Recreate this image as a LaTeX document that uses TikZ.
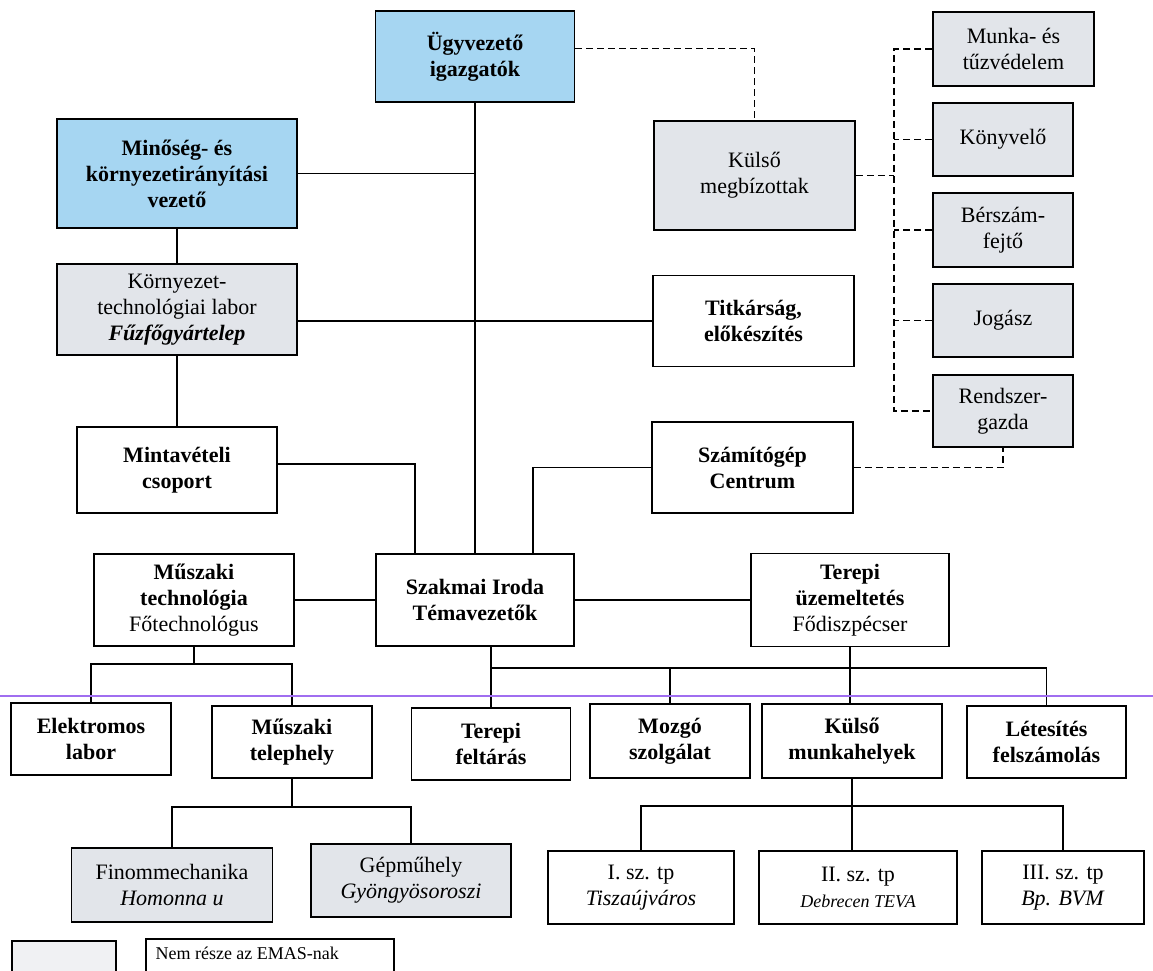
\documentclass[tikz,border=0pt]{standalone}
\usepackage{fontspec}
\setmainfont{Liberation Serif}
\definecolor{boxblue}{RGB}{166,214,242}
\definecolor{boxgray}{RGB}{226,229,234}
\definecolor{swatchgray}{RGB}{240,241,243}
\definecolor{scanline}{RGB}{160,110,240}

\begin{document}
\begin{tikzpicture}[x=1pt, y=-1pt,
    box/.style={draw, rectangle, line width=1.9pt, align=center, inner sep=2pt,
        font=\fontsize{22}{26}\selectfont},
    bf/.style={font=\fontsize{22}{26}\selectfont\bfseries},
    sz/.style 2 args={minimum width=#1pt, minimum height=#2pt},
    bluebox/.style={box, fill=boxblue},
    graybox/.style={box, fill=boxgray},
    line/.style={line width=1.8pt},
    dline/.style={line width=1.7pt, dash pattern=on 7pt off 4pt}]
    \useasboundingbox (0,0) rectangle (1153,970);

    % Nodes
    \node (ug) [bluebox, bf, sz={199}{91}] at (475,56.5) {Ügyvezető\\igazgatók};
    \node (minoseg) [bluebox, bf, sz={240}{109}] at (177,173.5) {Minőség- és\\környezetirányítási\\vezető};
    \node (kulso) [graybox, sz={201}{109}] at (754.5,175.5) {Külső\\megbízottak};
    \node (munka) [graybox, sz={161}{74}] at (1013.5,49) {Munka- és\\tűzvédelem};
    \node (konyvelo) [graybox, sz={140}{73}] at (1003,139.5) {Könyvelő};
    \node (berszam) [graybox, sz={140}{74}] at (1003,230) {Bérszám-\\fejtő};
    \node (jogasz) [graybox, sz={140}{73}] at (1003,320.5) {Jogász};
    \node (rendszer) [graybox, sz={140}{72}] at (1003,411) {Rendszer-\\gazda};
    \node (kornyezet) [graybox, sz={240}{91}] at (177,309.5) {Környezet-\\technológiai labor\\\textbf{\textit{Fűzfőgyártelep}}};
    \node (titkarsag) [box, bf, sz={201}{91}] at (753.5,321) {Titkárság,\\előkészítés};
    \node (mintaveteli) [box, bf, sz={200}{86}] at (177,470) {Mintavételi\\csoport};
    \node (szamitogep) [box, bf, sz={201}{91}] at (752.5,467.5) {Számítógép\\Centrum};
    \node (szakmai) [box, bf, sz={198}{92}] at (475,600) {Szakmai Iroda\\Témavezetők};
    \node (muszaki) [box, sz={200}{92}] at (194,600) {\textbf{Műszaki}\\\textbf{technológia}\\Főtechnológus};
    \node (terepi) [box, sz={198}{93}] at (850,600) {\textbf{Terepi}\\\textbf{üzemeltetés}\\Fődiszpécser};

    \node (elektromos) [box, bf, sz={160}{72}] at (91,739) {Elektromos\\labor};
    \node (telephely) [box, bf, sz={160}{72}] at (292,742) {Műszaki\\telephely};
    \node (feltaras) [box, bf, sz={159}{72}] at (491,744) {Terepi\\feltárás};
    \node (mozgo) [box, bf, sz={160}{74}] at (670,741) {Mozgó\\szolgálat};
    \node (munkahely) [box, bf, sz={180}{74}] at (852,741) {Külső\\munkahelyek};
    \node (letesites) [box, bf, sz={159}{72}] at (1046.5,742) {Létesítés\\felszámolás};

    \node (finom) [graybox, sz={201}{74}] at (172,885) {Finommechanika\\\textit{Homonna u}};
    \node (gep) [graybox, sz={200}{73}] at (411,880.5) {Gépműhely\\\textit{Gyöngyösoroszi}};
    \node (tp1) [box, sz={186}{73}] at (641,887.5) {I. sz. tp\\\textit{Tiszaújváros}};
    \node (tp2) [box, sz={198}{73}] at (858,887.5) {II. sz. tp\\{\fontsize{18}{22}\selectfont\itshape Debrecen TEVA}};
    \node (tp3) [box, sz={162}{73}] at (1063,887.5) {III. sz. tp\\\textit{Bp. BVM}};

    \node (swatch) [box, fill=swatchgray, sz={104}{45}, anchor=north west] at (11,940) {};
    \node (legend) [box, sz={248}{45}, anchor=north west] at (145,938) {};
    \node (legendtext) [anchor=west, font=\fontsize{18}{22}\selectfont] at (152,953) {Nem része az EMAS-nak};

    % Lines
    \coordinate (bus1) at (0,664);
    \coordinate (bus2) at (0,668);
    \coordinate (bus3) at (0,807);
    \coordinate (bus4) at (0,806);
    \coordinate (dbus) at (894,0);

    \draw[line] (ug.south) -- (szakmai.north);
    \draw[line] (minoseg.east) -- (minoseg.east -| ug.south);
    \draw[line] (minoseg.south) -- (kornyezet.north);
    \draw[line] (kornyezet.south) -- (mintaveteli.north);
    \draw[line] (titkarsag.west) -- (titkarsag.west -| kornyezet.east);
    \draw[line] ([yshift=6pt]mintaveteli.east) -| ([xshift=-60pt]szakmai.north);
    \draw[line] (szamitogep.west) -| ([xshift=58pt]szakmai.north);
    \draw[line] (muszaki.east) -- (szakmai.west);
    \draw[line] (szakmai.east) -- (terepi.west);

    \draw[line] (muszaki.south) -- (muszaki.south |- bus1);
    \draw[line] (elektromos.north) |- (telephely.north |- bus1) -- (telephely.north);
    \draw[line] (feltaras.north |- szakmai.south) -- (feltaras.north);
    \draw[line] (feltaras.north |- bus2) -| (letesites.north);
    \draw[line] (mozgo.north |- bus2) -- (mozgo.north);
    \draw[line] (terepi.south) -- (terepi.south |- munkahely.north);

    \draw[line] (telephely.south) -- (telephely.south |- bus3);
    \draw[line] (finom.north) |- (gep.north |- bus3) -- (gep.north);
    \draw[line] (munkahely.south) -- (munkahely.south |- tp2.north);
    \draw[line] (tp1.north) |- (tp3.north |- bus4) -- (tp3.north);

    \draw[dline] ([yshift=8pt]ug.east) -| (kulso.north);
    \draw[dline] (kulso.east) -- (kulso.east -| dbus);
    \draw[dline] (munka.west) -| (dbus |- rendszer.west) -- (rendszer.west);
    \foreach \n in {konyvelo, berszam, jogasz}
        \draw[dline] (\n.west) -- (\n.west -| dbus);
    \draw[dline] (szamitogep.east) -| (rendszer.south);

    \draw[line width=1.5pt, scanline] (0,696) -- (1153,696);
\end{tikzpicture}
\end{document}
